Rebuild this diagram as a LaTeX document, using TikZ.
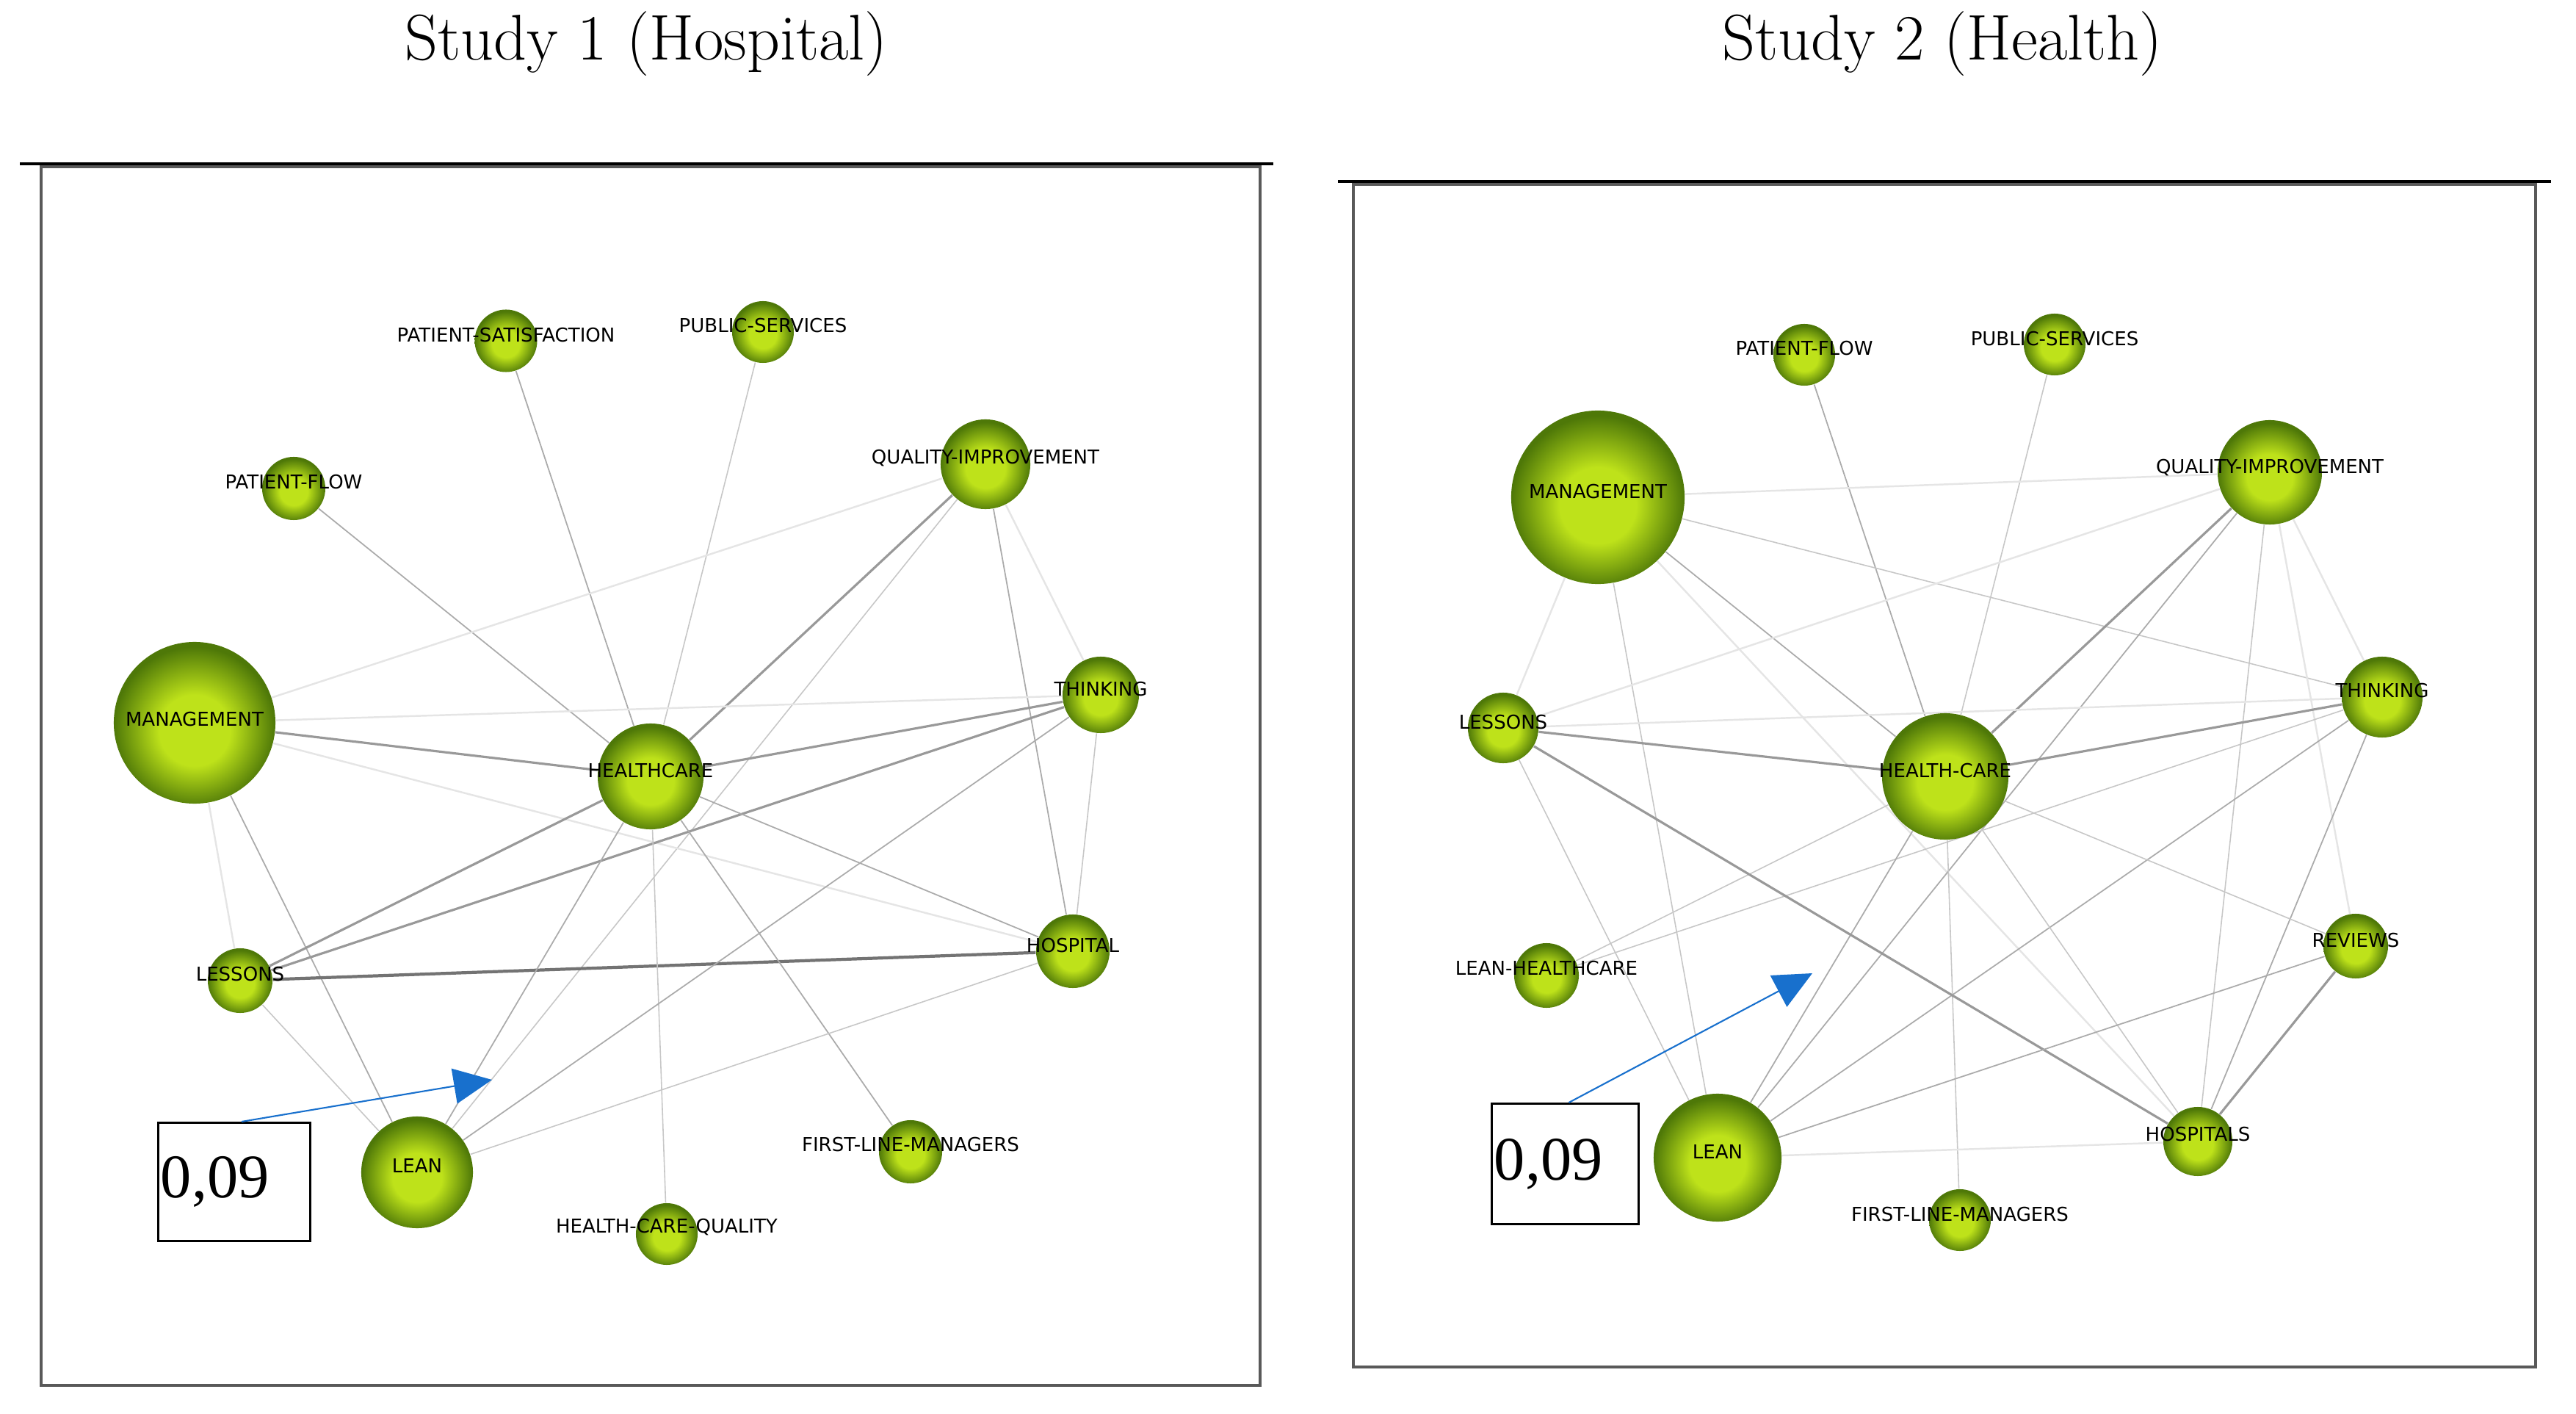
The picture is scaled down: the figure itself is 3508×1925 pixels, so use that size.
\documentclass[tikz,border=0pt]{standalone}
\usepackage{fontspec}
\newfontfamily\tagfont{DejaVu Sans}
\newfontfamily\numfont{Liberation Serif}
\usetikzlibrary{arrows.meta}

\pgfdeclarelayer{edges}
\pgfsetlayers{edges,main}

\definecolor{ballhi}{RGB}{190,226,26}
\definecolor{balllo}{RGB}{78,120,8}
\definecolor{arrowblue}{RGB}{24,112,205}
\pgfdeclareradialshading{gephiball}{\pgfpoint{0bp}{-3bp}}{color(0bp)=(ballhi); color(11bp)=(ballhi); color(25bp)=(balllo); color(50bp)=(balllo)}

\tikzset{
  topic/.style={circle, shade, shading=gephiball, minimum size=#1, inner sep=0pt},
  tag/.style={font=\tagfont\fontsize{7.4}{8}\selectfont, inner sep=0pt},
  title/.style={font=\fontsize{25}{30}\selectfont, anchor=base},
  valbox/.style={draw, line width=0.8pt, inner sep=0.035cm, align=left,
    font=\numfont\fontsize{24}{26}\selectfont, anchor=north west},
  pointer/.style={draw=arrowblue, line width=0.6pt, -{Triangle[length=0.52cm, width=0.48cm]}},
  frame/.style={draw=black!65, line width=0.9pt},
  rule/.style={draw=black, line width=1.1pt},
  faint/.style={draw=black!10, line width=0.7pt},
  soft/.style={draw=black!22, line width=0.45pt},
  plain/.style={draw=black!33, line width=0.5pt},
  firm/.style={draw=black!40, line width=0.9pt},
  heavy/.style={draw=black!55, line width=1.2pt}
}

\begin{document}
\begin{tikzpicture}[x=0.01cm, y=-0.01cm]
  \useasboundingbox (0,0) rectangle (3508,1925);

  % Titles and frames
  \node[title] (title1) at (880,82) {Study 1 (Hospital)};
  \node[title] (title2) at (2645,82) {Study 2 (Health)};

  \draw[frame] (56,227) rectangle (1716,1886);
  \draw[rule] (27,223) -- (1734,223);
  \draw[frame] (1843,251) rectangle (3453,1861);
  \draw[rule] (1822,247) -- (3474,247);

  % Study 1
  \node[topic=0.85cm] (psat1) at (689,464) {};
  \node[topic=0.84cm] (pubs1) at (1039,452) {};
  \node[topic=0.86cm] (pflow1) at (400,665) {};
  \node[topic=1.22cm] (qi1) at (1342,632) {};
  \node[topic=2.2cm] (mgmt1) at (265,984) {};
  \node[topic=1.04cm] (think1) at (1499,946) {};
  \node[topic=1.44cm] (hc1) at (886,1057) {};
  \node[topic=0.88cm] (less1) at (327,1335) {};
  \node[topic=1.0cm] (hosp1) at (1461,1295) {};
  \node[topic=1.52cm] (lean1) at (568,1596) {};
  \node[topic=0.86cm] (flm1) at (1240,1568) {};
  \node[topic=0.84cm] (hcq1) at (908,1680) {};

  \node[tag] (psat1t) at ([yshift=0.08cm]psat1) {PATIENT-SATISFACTION};
  \node[tag] (pubs1t) at ([yshift=0.09cm]pubs1) {PUBLIC-SERVICES};
  \node[tag] (pflow1t) at ([yshift=0.09cm]pflow1) {PATIENT-FLOW};
  \node[tag] (qi1t) at ([yshift=0.08cm]qi1) {QUALITY-IMPROVEMENT};
  \node[tag] (mgmt1t) at ([yshift=0.05cm]mgmt1) {MANAGEMENT};
  \node[tag] (think1t) at ([yshift=0.08cm]think1) {THINKING};
  \node[tag] (hc1t) at ([yshift=0.08cm]hc1) {HEALTHCARE};
  \node[tag] (less1t) at ([yshift=0.09cm]less1) {LESSONS};
  \node[tag] (hosp1t) at ([yshift=0.08cm]hosp1) {HOSPITAL};
  \node[tag] (lean1t) at ([yshift=0.09cm]lean1) {LEAN};
  \node[tag] (flm1t) at ([yshift=0.1cm]flm1) {FIRST-LINE-MANAGERS};
  \node[tag] (hcq1t) at ([yshift=0.09cm]hcq1) {HEALTH-CARE-QUALITY};

  \begin{pgfonlayer}{edges}
    \draw[plain] (pflow1) -- (hc1);
    \draw[plain] (psat1) -- (hc1);
    \draw[soft] (pubs1) -- (hc1);
    \draw[faint] (qi1) -- (mgmt1);
    \draw[firm] (qi1) -- (hc1);
    \draw[soft] (qi1) -- (lean1);
    \draw[plain] (qi1) -- (hosp1);
    \draw[faint] (qi1) -- (think1);
    \draw[faint] (mgmt1) -- (think1);
    \draw[firm] (mgmt1) -- (hc1);
    \draw[faint] (mgmt1) -- (hosp1);
    \draw[faint] (mgmt1) -- (less1);
    \draw[plain] (mgmt1) -- (lean1);
    \draw[firm] (hc1) -- (think1);
    \draw[firm] (hc1) -- (less1);
    \draw[firm] (less1) -- (think1);
    \draw[heavy] (less1) -- (hosp1);
    \draw[soft] (less1) -- (lean1);
    \draw[plain] (hc1) -- (lean1);
    \draw[soft] (hc1) -- (hcq1);
    \draw[plain] (hc1) -- (flm1);
    \draw[plain] (hc1) -- (hosp1);
    \draw[plain] (think1) -- (lean1);
    \draw[soft] (think1) -- (hosp1);
    \draw[soft] (hosp1) -- (lean1);
  \end{pgfonlayer}

  \node[valbox, minimum height=1.61cm, text width=2.0cm] (val1) at (214,1527) {0,09};
  \coordinate (tip1) at (670,1470);
  \draw[pointer] ([xshift=0.1cm]val1.north) -- (tip1);

  % Study 2
  \node[topic=0.84cm] (pflow2) at (2457,483) {};
  \node[topic=0.84cm] (pubs2) at (2798,469) {};
  \node[topic=2.36cm] (mgmt2) at (2176,677) {};
  \node[topic=1.42cm] (qi2) at (3091,643) {};
  \node[topic=1.1cm] (think2) at (3244,949) {};
  \node[topic=0.96cm] (less2) at (2047,991) {};
  \node[topic=1.72cm] (hc2) at (2649,1057) {};
  \node[topic=0.88cm] (lhc2) at (2106,1328) {};
  \node[topic=0.88cm] (rev2) at (3208,1288) {};
  \node[topic=1.74cm] (lean2) at (2339,1576) {};
  \node[topic=0.94cm] (hosps2) at (2993,1554) {};
  \node[topic=0.84cm] (flm2) at (2669,1661) {};

  \node[tag] (pflow2t) at ([yshift=0.09cm]pflow2) {PATIENT-FLOW};
  \node[tag] (pubs2t) at ([yshift=0.08cm]pubs2) {PUBLIC-SERVICES};
  \node[tag] (mgmt2t) at ([yshift=0.08cm]mgmt2) {MANAGEMENT};
  \node[tag] (qi2t) at ([yshift=0.06cm]qi2) {QUALITY-IMPROVEMENT};
  \node[tag] (think2t) at ([yshift=0.09cm]think2) {THINKING};
  \node[tag] (less2t) at ([yshift=0.08cm]less2) {LESSONS};
  \node[tag] (hc2t) at ([yshift=0.08cm]hc2) {HEALTH-CARE};
  \node[tag] (lhc2t) at ([yshift=0.1cm]lhc2) {LEAN-HEALTHCARE};
  \node[tag] (rev2t) at ([yshift=0.08cm]rev2) {REVIEWS};
  \node[tag] (lean2t) at ([yshift=0.08cm]lean2) {LEAN};
  \node[tag] (hosps2t) at ([yshift=0.1cm]hosps2) {HOSPITALS};
  \node[tag] (flm2t) at ([yshift=0.08cm]flm2) {FIRST-LINE-MANAGERS};

  \begin{pgfonlayer}{edges}
    \draw[plain] (pflow2) -- (hc2);
    \draw[soft] (pubs2) -- (hc2);
    \draw[faint] (mgmt2) -- (qi2);
    \draw[soft] (mgmt2) -- (think2);
    \draw[plain] (mgmt2) -- (hc2);
    \draw[faint] (mgmt2) -- (less2);
    \draw[soft] (mgmt2) -- (lean2);
    \draw[faint] (mgmt2) -- (hosps2);
    \draw[firm] (qi2) -- (hc2);
    \draw[faint] (qi2) -- (less2);
    \draw[faint] (qi2) -- (think2);
    \draw[plain] (qi2) -- (lean2);
    \draw[soft] (qi2) -- (hosps2);
    \draw[faint] (qi2) -- (rev2);
    \draw[firm] (think2) -- (hc2);
    \draw[faint] (think2) -- (less2);
    \draw[soft] (think2) -- (lhc2);
    \draw[plain] (think2) -- (lean2);
    \draw[plain] (think2) -- (hosps2);
    \draw[firm] (hc2) -- (less2);
    \draw[plain] (hc2) -- (lean2);
    \draw[soft] (hc2) -- (lhc2);
    \draw[soft] (hc2) -- (rev2);
    \draw[soft] (hc2) -- (hosps2);
    \draw[soft] (hc2) -- (flm2);
    \draw[firm] (less2) -- (hosps2);
    \draw[soft] (less2) -- (lean2);
    \draw[plain] (lean2) -- (rev2);
    \draw[faint] (lean2) -- (hosps2);
    \draw[firm] (rev2) -- (hosps2);
  \end{pgfonlayer}

  \node[valbox, minimum height=1.64cm, text width=1.93cm] (val2) at (2030,1501) {0,09};
  \coordinate (tip2) at (2468,1325);
  \draw[pointer] ([xshift=0.05cm]val2.north) -- (tip2);
\end{tikzpicture}
\end{document}
